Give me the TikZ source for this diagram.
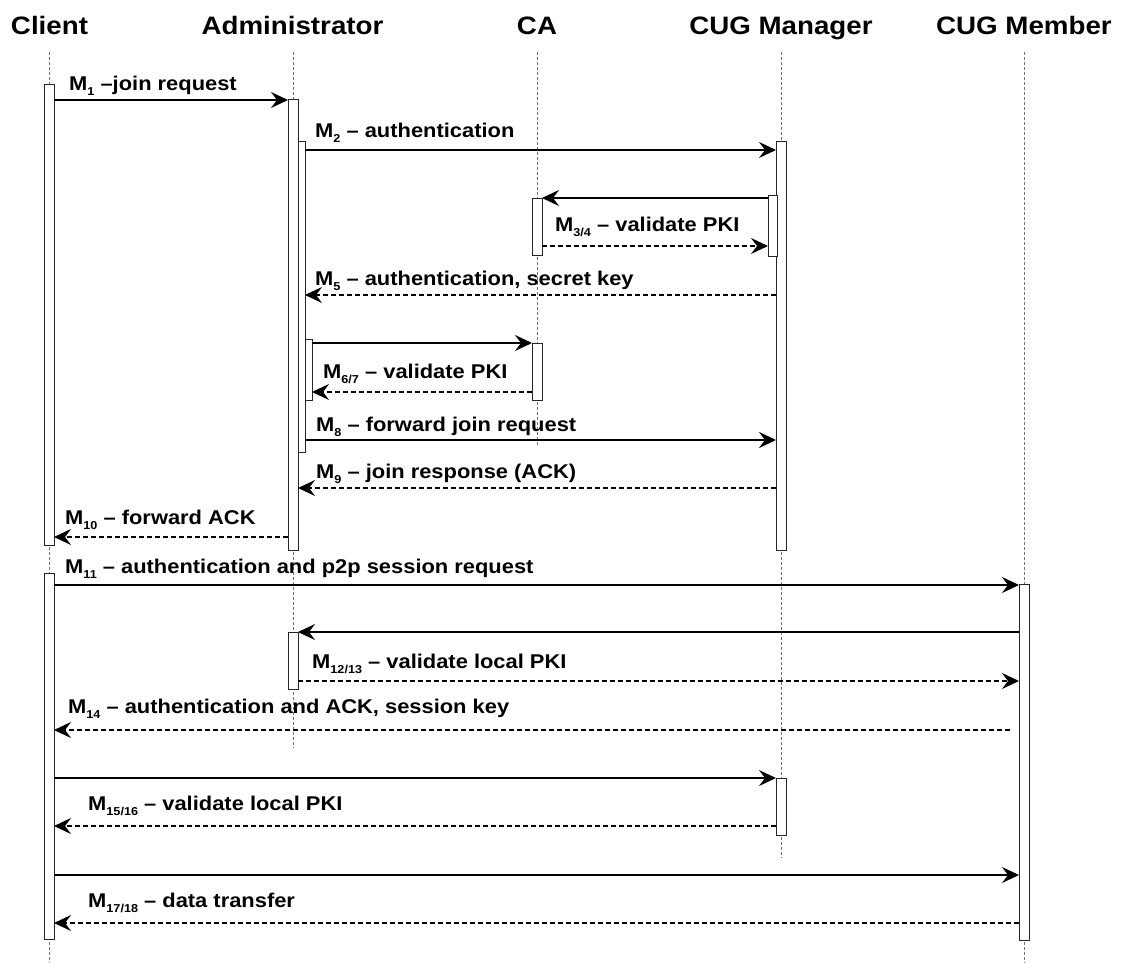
\documentclass[tikz,border=0pt]{standalone}
\usepackage{fontspec}
\setmainfont{Liberation Sans}[FakeStretch=1.1]
\usetikzlibrary{arrows.meta}
% subscript used in the message names
\newcommand\msub[1]{\raisebox{-5pt}{\fontsize{11.5}{12}\selectfont #1}}

\begin{document}
\begin{tikzpicture}[x=1pt,y=-1pt,
  head/.style={font=\fontsize{25.2}{26}\selectfont\bfseries, anchor=base, inner sep=0pt},
  lbl/.style={font=\fontsize{19.9}{21}\selectfont\bfseries, anchor=base west, inner sep=0pt},
  life/.style={draw=black!55, line width=0.8pt, dash pattern=on 3pt off 2pt},
  bar/.style={draw=black!85, fill=white, line width=1pt, minimum width=#1, inner sep=0pt, outer sep=0pt, anchor=north},
  bar/.default=10pt,
  msg/.style={draw=black, line width=1.1pt, -{Stealth[length=17pt,width=16pt,inset=6pt]}},
  reply/.style={msg, dash pattern=on 5pt off 3pt}]

\useasboundingbox (0,0) rectangle (1124,963);

% participants
\node[head] (hcl) at (49.5,35) {Client};
\node[head] (had) at (292.5,35) {Administrator};
\node[head] (hca) at (537,35) {CA};
\node[head] (hmg) at (781,35) {CUG Manager};
\node[head] (hmb) at (1024,35) {CUG Member};

% lifeline positions
\coordinate (xcl) at (49,0);
\coordinate (xad) at (293,0);
\coordinate (xca) at (537,0);
\coordinate (xmg) at (781,0);
\coordinate (xmb) at (1024,0);

% lifelines
\draw[life] (xcl |- 0,52) -- (xcl |- 0,963);
\draw[life] (xad |- 0,52) -- (xad |- 0,748);
\draw[life] (xca |- 0,52) -- (xca |- 0,446);
\draw[life] (xmg |- 0,52) -- (xmg |- 0,858);
\draw[life] (xmb |- 0,52) -- (xmb |- 0,963);

% activation bars
\node[bar, minimum height=460pt] (cl1) at (xcl |- 0,85) {};
\node[bar, minimum height=366pt] (cl2) at (xcl |- 0,573) {};
\node[bar, minimum height=450pt] (ad1) at (xad |- 0,100) {};
\node[bar=7pt, minimum height=310pt] (ad2) at (301.5,142) {};
\node[bar=7pt, minimum height=61pt] (ad3) at (308.5,339) {};
\node[bar, minimum height=57pt] (ad4) at (xad |- 0,632) {};
\node[bar, minimum height=57pt] (ca1) at (xca |- 0,198) {};
\node[bar, minimum height=57pt] (ca2) at (xca |- 0,343) {};
\node[bar, minimum height=408pt] (mg1) at (xmg |- 0,142) {};
\node[bar=9pt, minimum height=61pt] (mg2) at (772.5,195) {};
\node[bar, minimum height=57pt] (mg3) at (xmg |- 0,778) {};
\node[bar, minimum height=356pt] (mb1) at (xmb |- 0,584) {};

% messages
\draw[msg]   (cl1.east |- 0,100) -- (ad1.west |- 0,100);
\draw[msg]   (ad2.east |- 0,150) -- (mg1.west |- 0,150);
\draw[msg]   (mg2.west |- 0,198) -- (ca1.east |- 0,198);
\draw[reply] (ca1.east |- 0,246) -- (mg2.west |- 0,246);
\draw[reply] (mg1.west |- 0,295) -- (ad2.east |- 0,295);
\draw[msg]   (ad3.east |- 0,343) -- (ca2.west |- 0,343);
\draw[reply] (ca2.west |- 0,392) -- (ad3.east |- 0,392);
\draw[msg]   (ad2.east |- 0,440) -- (mg1.west |- 0,440);
\draw[reply] (mg1.west |- 0,488) -- (ad1.east |- 0,488);
\draw[reply] (ad1.west |- 0,537) -- (cl1.east |- 0,537);
\draw[msg]   (cl2.east |- 0,585) -- (mb1.west |- 0,585);
\draw[msg]   (mb1.west |- 0,632) -- (ad4.east |- 0,632);
\draw[reply] (ad4.east |- 0,681) -- (mb1.west |- 0,681);
\coordinate (m14s) at (1010,730);
\draw[reply] (m14s) -- (cl2.east |- m14s);
\draw[msg]   (cl2.east |- 0,778) -- (mg3.west |- 0,778);
\draw[reply] (mg3.west |- 0,826) -- (cl2.east |- 0,826);
\draw[msg]   (cl2.east |- 0,875) -- (mb1.west |- 0,875);
\draw[reply] (mb1.west |- 0,923) -- (cl2.east |- 0,923);

% message labels
\node[lbl] (l1)  at (69,90.5)   {M\msub{1} \textendash join request};
\node[lbl] (l2)  at (315,138)   {M\msub{2} \textendash{} authentication};
\node[lbl] (l3)  at (555,231.5) {M\msub{3/4} \textendash{} validate PKI};
\node[lbl] (l5)  at (315,285)   {M\msub{5} \textendash{} authentication, secret key};
\node[lbl] (l6)  at (323,378)   {M\msub{6/7} \textendash{} validate PKI};
\node[lbl] (l8)  at (316,431.5) {M\msub{8} \textendash{} forward join request};
\node[lbl] (l9)  at (316,478)   {M\msub{9} \textendash{} join response (ACK)};
\node[lbl] (l10) at (65,524)    {M\msub{10} \textendash{} forward ACK};
\node[lbl] (l11) at (65,573)    {M\msub{11} \textendash{} authentication and p2p session request};
\node[lbl] (l12) at (312,668)   {M\msub{12/13} \textendash{} validate local PKI};
\node[lbl] (l14) at (68,713)    {M\msub{14} \textendash{} authentication and ACK, session key};
\node[lbl] (l15) at (88,810)    {M\msub{15/16} \textendash{} validate local PKI};
\node[lbl] (l17) at (88,907)    {M\msub{17/18} \textendash{} data transfer};
\end{tikzpicture}
\end{document}
